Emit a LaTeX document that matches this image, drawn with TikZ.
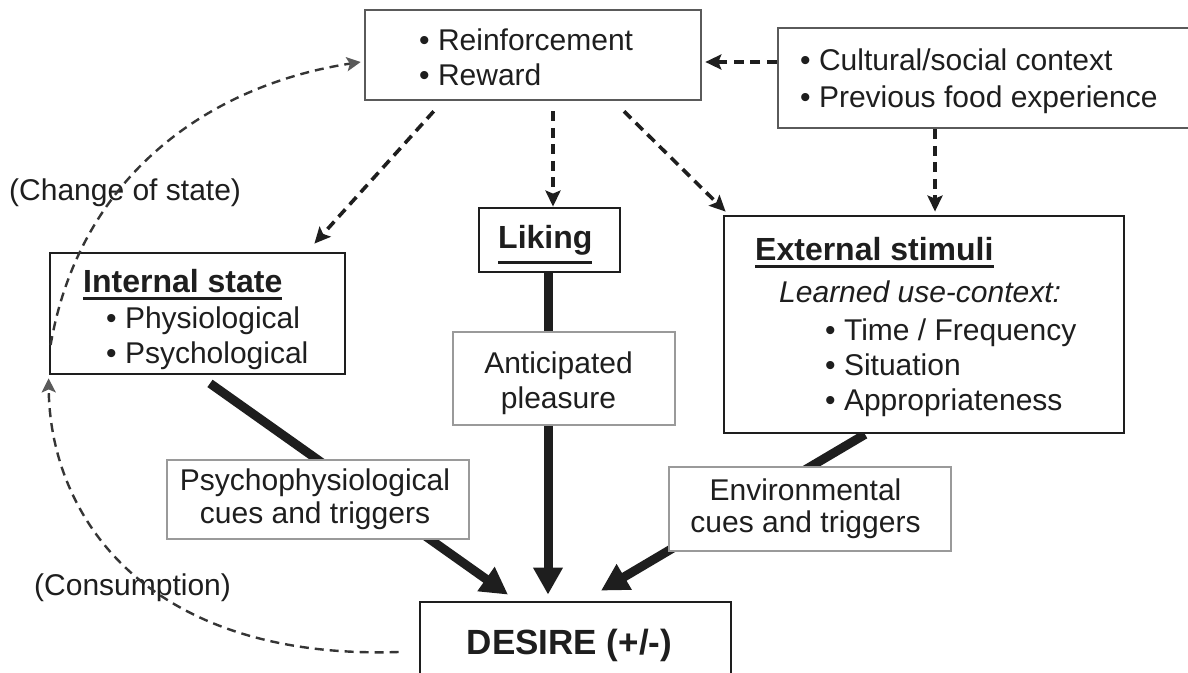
\documentclass[tikz,border=0pt]{standalone}
\usepackage{fontspec}
\setmainfont{Liberation Sans}
\usetikzlibrary{arrows.meta,calc,backgrounds}
\definecolor{ink}{HTML}{1E1E1E}
\definecolor{grayline}{HTML}{9A9A9A}
\definecolor{darkline}{HTML}{5A5A5A}
\newcommand{\thul}[2][-8pt]{\sbox0{#2}\rlap{\rule[#1]{\wd0}{3.5pt}}\usebox0}
\tikzset{
 boxk/.style={draw=ink, line width=2.8pt, fill=white, inner sep=0pt},
 boxg/.style={draw=grayline, line width=2.6pt, fill=white, inner sep=0pt},
 boxd/.style={draw=darkline, line width=2.6pt, fill=white, inner sep=0pt},
 txt/.style={inner sep=0pt, text=ink, font=\fontsize{30}{36}\selectfont},
 ttl/.style={inner sep=0pt, text=ink, font=\fontsize{32}{36}\selectfont\bfseries},
 dasharrow/.style={draw=ink, line width=3.6pt, dash pattern=on 10pt off 6.5pt, -{Stealth[length=16pt,width=15pt,inset=3pt]}},
 thickarrow/.style={draw=ink, line width=9pt, -{Triangle[length=27pt,width=28pt]}},
 curvearrow/.style={draw=ink!90, line width=2.4pt, dash pattern=on 9pt off 6pt, -{Stealth[length=14pt,width=14pt,inset=3pt,color=darkline]}},
}
\begin{document}
\begin{tikzpicture}[x=1pt,y=-1pt]
\useasboundingbox (0,0) rectangle (1188,672);
% boxes
\node[boxd, minimum width=336pt, minimum height=90pt] (rew) at (533,55) {};
\node[boxd, minimum width=412pt, minimum height=100pt] (cul) at (984,78) {};
\node[boxk, minimum width=141pt, minimum height=64pt] (lik) at (549.5,240) {};
\node[boxk, minimum width=295pt, minimum height=121pt] (int) at (197.5,313.5) {};
\node[boxk, minimum width=400pt, minimum height=217pt] (ext) at (924,324.5) {};
\node[boxg, minimum width=222pt, minimum height=93pt] (ant) at (564,378.5) {};
\node[boxg, minimum width=302pt, minimum height=79pt] (psy) at (318,499.5) {};
\node[boxg, minimum width=282pt, minimum height=84pt] (env) at (810,509) {};
\node[boxk, minimum width=311pt, minimum height=100pt] (des) at (575.5,652) {};
% texts
\node[txt, anchor=base west] (rew1) at (419,50) {• Reinforcement};
\node[txt, anchor=base west] (rew2) at (419,85) {• Reward};
\node[txt, anchor=base west] (cul1) at (800,70) {• Cultural/social context};
\node[txt, anchor=base west] (cul2) at (800,107) {• Previous food experience};
\node[ttl, anchor=base west] (likt) at (498,248) {\thul[-16pt]{Liking}};
\node[ttl, anchor=base west] (intt) at (83,292) {\thul{Internal state}};
\node[txt, anchor=base west] (int1) at (106,328) {• Physiological};
\node[txt, anchor=base west] (int2) at (106,363) {• Psychological};
\node[ttl, anchor=base west] (extt) at (755,260) {\thul{External stimuli}};
\node[txt, anchor=base west] (ext0) at (779,302) {\itshape Learned use-context:};
\node[txt, anchor=base west] (ext1) at (825,340) {• Time / Frequency};
\node[txt, anchor=base west] (ext2) at (825,375) {• Situation};
\node[txt, anchor=base west] (ext3) at (825,410) {• Appropriateness};
\node[txt, anchor=base] (ant1) at (558.5,373) {Anticipated};
\node[txt, anchor=base] (ant2) at (558.5,408) {pleasure};
\node[txt, anchor=base] (psy1) at (315,490) {Psychophysiological};
\node[txt, anchor=base] (psy2) at (315,523) {cues and triggers};
\node[txt, anchor=base] (env1) at (805.5,500) {Environmental};
\node[txt, anchor=base] (env2) at (805.5,532) {cues and triggers};
\node[ttl, anchor=base, font=\fontsize{35}{40}\selectfont\bfseries] (dest) at (569.5,654) {DESIRE (+/-)};
\node[txt, anchor=base west] (lab1) at (9,200) {(Change of state)};
\node[txt, anchor=base west] (lab2) at (34,595) {(Consumption)};
% thick arrows behind gray boxes
\begin{pgfonlayer}{background}
\draw[thickarrow] ($(lik.south)+(-1.5,0)$) -- ($(des.north)+(-27.5,-6)$);
\draw[thickarrow] ($(int.south)+(12.5,8)$) -- ($(des.north)+(-67.5,-6)$);
\draw[thickarrow] ($(ext.south)+(-59,0)$) -- ($(des.north)+(25.5,-10)$);
\end{pgfonlayer}
% dashed arrows
\draw[dasharrow] ($(rew.south west)+(70,10)$) -- ($(int.north east)+(-32,-8)$);
\draw[dasharrow] ($(rew.south)+(20,10)$) -- ($(lik.north)+(3.5,0)$);
\draw[dasharrow] ($(rew.south)+(91,10)$) -- ($(ext.north west)+(3,-3)$);
\draw[dasharrow] ($(cul.west)+(0,-16)$) -- ($(rew.east)+(3,7)$);
\draw[dasharrow] ($(cul.south)+(-49,0)$) -- ($(ext.north)+(11,-3)$);
% curved feedback
\coordinate (cs) at ($(int.west)+(2,31.5)$);
\draw[curvearrow] (cs) .. controls (80,175) and (210,85) .. ($(rew.west)+(-3,7)$);
\coordinate (cc) at ($(des.west)+(-20,0)$);
\draw[curvearrow] (cc) .. controls (150,660) and (50,520) .. ($(int.south west)+(0,3)$);
\end{tikzpicture}
\end{document}
